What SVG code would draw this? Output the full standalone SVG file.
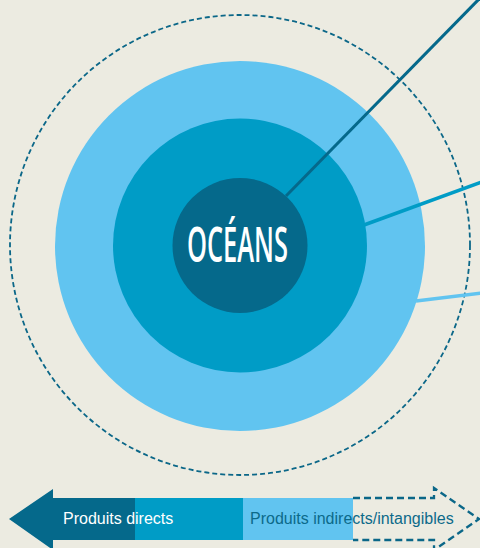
<svg xmlns="http://www.w3.org/2000/svg" width="480" height="548" viewBox="0 0 480 548">
  <style>
    .bg { fill: #ecebe1; }
    .dark { fill: #05698b; }
    .mid { fill: #009cc6; }
    .light { fill: #61c4f0; }
    .dash { fill: none; stroke: #0b6788; stroke-width: 1.8; stroke-dasharray: 5 3; }
    .dasharrow { fill: none; stroke: #0b6788; stroke-width: 2.3; stroke-dasharray: 7 4; stroke-linejoin: miter; }
    .lbl { font-family: "Liberation Sans", Arial, sans-serif; font-size: 16px; }
    .title { font-family: "Open Sans", "DejaVu Sans Condensed", sans-serif; font-weight: 600; font-size: 48px; fill: #ffffff; }
  </style>
  <rect class="bg" x="0" y="0" width="480" height="548"/>

  <g id="outer-dashed">
    <circle class="dash" cx="240" cy="245" r="230"/>
  </g>
  <g id="ring-indirect">
    <circle class="light" cx="240" cy="246" r="185"/>
  </g>
  <g id="ring-direct">
    <circle class="mid" cx="240" cy="245.5" r="127"/>
  </g>

  <g id="connectors">
    <line x1="286" y1="196" x2="480" y2="-2" stroke="#05698b" stroke-width="3"/>
    <line x1="364" y1="225" x2="482" y2="182" stroke="#009cc6" stroke-width="3.5"/>
    <line x1="416" y1="301" x2="482" y2="293" stroke="#61c4f0" stroke-width="3.5"/>
  </g>

  <g id="oceans">
    <circle class="dark" cx="240" cy="245.5" r="67.5"/>
    <text class="title" x="187" y="262" textLength="101" lengthAdjust="spacingAndGlyphs">OCÉANS</text>
  </g>

  <g id="legend-direct">
    <polygon class="dark" points="9,519 53,489 53,498 136,498 136,540 53,540 53,550"/>
    <rect class="mid" x="135" y="498" width="109" height="42"/>
    <text class="lbl" x="63" y="524" fill="#ffffff">Produits directs</text>
  </g>
  <g id="legend-indirect">
    <rect class="light" x="243" y="498" width="110" height="42"/>
    <polyline class="dasharrow" points="353,498 434,498 434,488 479,519 434,550 434,540 353,540"/>
    <text class="lbl" x="250" y="524" fill="#0c6a8a">Produits indirects/intangibles</text>
  </g>
</svg>
